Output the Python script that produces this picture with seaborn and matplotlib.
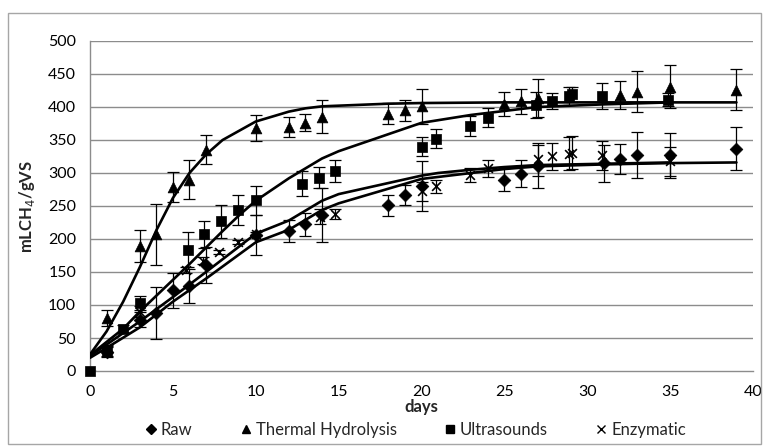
import matplotlib
matplotlib.use("Agg")
import matplotlib.pyplot as plt
from matplotlib.lines import Line2D
from matplotlib.patches import Rectangle
import seaborn as sns
import pandas as pd

# ---- measured points ----
raw_days = [1, 3, 4, 5, 6, 7, 10, 12, 13, 14, 18, 19, 20, 25, 26, 27, 31, 32, 33, 35, 39]
raw_vals = [29, 78, 88, 122, 129, 161, 206, 212, 222, 236, 251, 267, 280, 290, 299, 310, 315, 321, 327, 327, 337]
raw_err = [8, 12, 40, 26, 26, 27, 31, 17, 18, 41, 16, 15, 38, 18, 20, 33, 28, 23, 35, 34, 32]

thermal_days = [1, 3, 4, 5, 6, 7, 10, 12, 13, 14, 18, 19, 20, 25, 26, 27, 32, 33, 35, 39]
thermal_vals = [80, 189, 207, 279, 290, 335, 368, 370, 376, 385, 390, 395, 401, 405, 409, 414, 418, 423, 431, 426]
thermal_err = [12, 24, 46, 23, 30, 22, 20, 15, 13, 25, 16, 16, 27, 18, 19, 29, 21, 31, 32, 31]

ultra_days = [0, 1, 2, 3, 5.9, 6.9, 7.9, 8.9, 10, 12.8, 13.8, 14.8, 20, 20.9, 22.9, 24, 26.9, 27.9, 28.9, 29.1, 30.9, 34.9]
ultra_vals = [0, 30, 64, 103, 184, 207, 227, 244, 259, 284, 293, 303, 340, 352, 371, 384, 403, 409, 417, 419, 417, 411]
ultra_err = [0, 8, 5, 10, 27, 20, 25, 23, 22, 19, 16, 16, 15, 14, 15, 14, 20, 12, 14, 12, 20, 10]

enz_days = [1, 3, 5.8, 6.8, 7.8, 8.9, 10, 13.9, 14.8, 20, 20.9, 22.9, 24, 27, 27.9, 28.9, 29.1, 30.9, 35]
enz_vals = [33, 90, 153, 167, 181, 195, 207, 234, 238, 272, 280, 297, 307, 321, 325, 329, 331, 327, 318]
enz_err = [6, 8, 5, 5, 3, 3, 3, 12, 8, 15, 10, 10, 13, 25, 20, 25, 25, 22, 22]

# ---- model curves ----
raw_fit_days = [0, 1, 3, 5, 7, 10, 12, 14, 15, 20, 25, 27, 31, 35, 39]
raw_fit_vals = [20, 35, 66, 105, 140, 195, 214, 244, 254, 291, 306, 310, 313, 315, 316]

thermal_fit_days = [0, 1, 2, 3, 4, 5, 6, 7, 8, 10, 12, 13, 14, 18, 20, 25, 27, 32, 35, 39]
thermal_fit_vals = [25, 60, 105, 157, 213, 262, 300, 328, 350, 378, 393, 398, 401, 405, 406, 407, 407, 407, 407, 407]

ultra_fit_days = [0, 1, 2, 3, 5, 6, 7, 8, 9, 10, 12, 13, 14, 15, 20, 21, 23, 24, 27, 29, 31, 35]
ultra_fit_vals = [24, 44, 64, 90, 138, 162, 187, 212, 236, 258, 292, 307, 322, 333, 376, 380, 388, 391, 400, 402, 404, 407]

enz_fit_days = [0, 1, 3, 5, 7, 10, 12, 14, 15, 20, 21, 23, 25, 27, 29, 31, 35]
enz_fit_vals = [23, 40, 75, 112, 150, 208, 228, 258, 268, 296, 300, 305, 309, 312, 313, 314, 316]

series = ["Raw", "Thermal Hydrolysis", "Ultrasounds", "Enzymatic"]
markers = {"Raw": "D", "Thermal Hydrolysis": "^", "Ultrasounds": "s", "Enzymatic": "x"}
msizes = {"Raw": 42, "Thermal Hydrolysis": 60, "Ultrasounds": 50, "Enzymatic": 40}

pts = {
    "Raw": (raw_days, raw_vals, raw_err),
    "Thermal Hydrolysis": (thermal_days, thermal_vals, thermal_err),
    "Ultrasounds": (ultra_days, ultra_vals, ultra_err),
    "Enzymatic": (enz_days, enz_vals, enz_err),
}
fits = {
    "Raw": (raw_fit_days, raw_fit_vals),
    "Thermal Hydrolysis": (thermal_fit_days, thermal_fit_vals),
    "Ultrasounds": (ultra_fit_days, ultra_fit_vals),
    "Enzymatic": (enz_fit_days, enz_fit_vals),
}

sns.set_theme(style="white")
plt.rcParams["font.family"] = ["Lato", "DejaVu Sans"]

fig = plt.figure(figsize=(7.63, 4.46), dpi=100)
ax = fig.add_axes([90 / 763, 1 - 371 / 446, (753 - 90) / 763, (371 - 41) / 446])

grid_c = "#8c8c8c"
for y in range(50, 501, 50):
    ax.axhline(y, color=grid_c, lw=1.0, zorder=0)

for name in series:
    d, v, e = pts[name]
    ax.errorbar(d, v, yerr=e, fmt="none", ecolor="black", elinewidth=0.9,
                capsize=4, capthick=0.9, zorder=2)

for name in series:
    fd, fv = fits[name]
    sns.lineplot(x=fd, y=fv, ax=ax, color="black", lw=1.9, sort=False,
                 estimator=None, zorder=3)

for name in series:
    d, v, e = pts[name]
    df = pd.DataFrame({"day": d, "val": v})
    if markers[name] == "x":
        sns.scatterplot(data=df, x="day", y="val", ax=ax, marker="x", s=msizes[name],
                        color="black", linewidth=1.2, zorder=4, clip_on=False)
    else:
        sns.scatterplot(data=df, x="day", y="val", ax=ax, marker=markers[name],
                        s=msizes[name], color="black", edgecolor="black",
                        linewidth=0.5, zorder=4, clip_on=False)

ax.set_xlim(0, 40)
ax.set_ylim(0, 500)
ax.set_xticks(range(0, 41, 5))
ax.set_yticks(range(0, 501, 50))
for s in ["top", "right"]:
    ax.spines[s].set_visible(False)
for s in ["left", "bottom"]:
    ax.spines[s].set_color(grid_c)
    ax.spines[s].set_linewidth(1.0)
ax.tick_params(axis="both", direction="out", length=5, width=1, color=grid_c,
               labelsize=11.5, labelcolor="black", pad=5)
ax.tick_params(axis="x", pad=5)
ax.set_xlabel("days", fontsize=12, fontweight="bold", labelpad=0)
ax.set_ylabel("mLCH$_4$/gVS", fontsize=12, fontweight="bold", labelpad=8)

handles = [
    Line2D([], [], ls="none", marker="D", ms=5, color="black"),
    Line2D([], [], ls="none", marker="^", ms=6, color="black"),
    Line2D([], [], ls="none", marker="s", ms=5.5, color="black"),
    Line2D([], [], ls="none", marker="x", ms=5.5, color="black", mew=1.0),
]
fig.legend(handles, series, loc="center", bbox_to_anchor=(0.543, 0.036), ncol=4,
           frameon=False, fontsize=12, handletextpad=0.1, columnspacing=2.7,
           handlelength=1.0)

fig.patches.append(Rectangle((8 / 763, 2 / 446), 753 / 763, 431 / 446,
                             transform=fig.transFigure, fill=False,
                             edgecolor="#a6a6a6", lw=1.0))

fig.savefig("out.png", dpi=100)
